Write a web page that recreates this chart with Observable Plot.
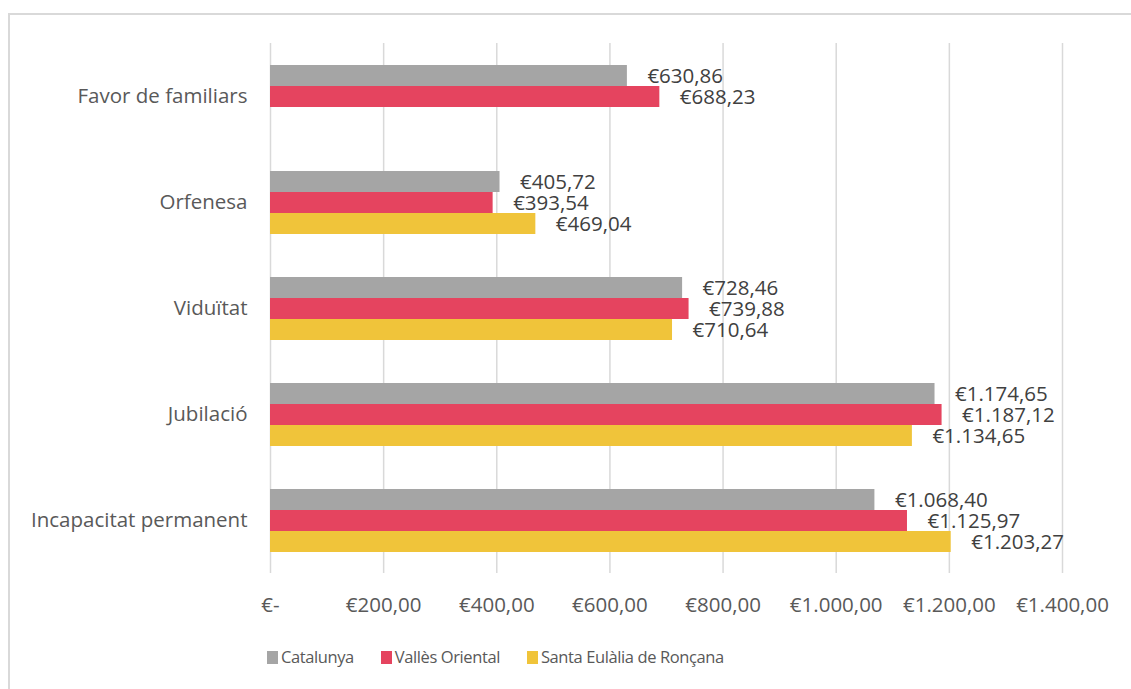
<!DOCTYPE html>
<html>
<head>
<meta charset="utf-8">
<script src="https://cdn.jsdelivr.net/npm/d3@7"></script>
<script src="https://cdn.jsdelivr.net/npm/@observablehq/plot@0.6"></script>
<style>
  html, body { margin: 0; padding: 0; background: #fff; overflow: hidden; }
  #wrap { position: relative; width: 1131px; height: 689px; }
  #frame { position: absolute; left: 8px; top: 13px; width: 1200px; height: 800px;
           border-left: 2px solid #D9D9D9; border-top: 2px solid #D9D9D9; box-sizing: border-box; }
  #chart { position: absolute; left: 0; top: 0; }
  #legend { position: absolute; left: 267px; top: 647px; display: flex; align-items: center;
            font-family: "Open Sans", sans-serif; font-size: 16.5px; letter-spacing: -0.4px; color: #595959; line-height: 20px; }
  .item { display: flex; align-items: center; margin-right: 27px; }
  .sw { width: 11px; height: 13px; margin-right: 3px; }
</style>
</head>
<body>
<div id="wrap">
  <div id="frame"></div>
  <div id="chart"></div>
  <div id="legend"></div>
</div>
<script>
const categories = ["Favor de familiars", "Orfenesa", "Viduïtat", "Jubilació", "Incapacitat permanent"];
const series = ["Catalunya", "Vallès Oriental", "Santa Eulàlia de Ronçana"];
const catalunya = [630.86, 405.72, 728.46, 1174.65, 1068.40];
const vallesOriental = [688.23, 393.54, 739.88, 1187.12, 1125.97];
const santaEulalia = [null, 469.04, 710.64, 1134.65, 1203.27];
const colors = ["#A5A5A5", "#E5445F", "#F0C43A"];
const xTicks = [0, 200, 400, 600, 800, 1000, 1200, 1400];

const seriesValues = [catalunya, vallesOriental, santaEulalia];
const data = [];
categories.forEach((c, i) => {
  series.forEach((s, j) => {
    const v = seriesValues[j][i];
    if (v != null) data.push({category: c, series: s, value: v});
  });
});

const locale = d3.formatLocale({decimal: ",", thousands: ".", grouping: [3], currency: ["€", ""]});
const fmtNum = locale.format("$,.2f");
const fmt = v => v === 0 ? "€-" : fmtNum(v);

const chart = Plot.plot({
  width: 1131,
  height: 620,
  marginLeft: 270,
  marginRight: 69,
  marginTop: 42,
  marginBottom: 47,
  style: {fontFamily: "Open Sans, sans-serif", fontSize: "20.5px", color: "#595959", background: "transparent"},
  facet: {data, y: "category", label: null},
  fy: {domain: categories, padding: 0, tickSize: 0, tickPadding: 23, label: null},
  y: {domain: series, axis: null, paddingInner: 0, paddingOuter: 0.914},
  x: {domain: [0, 1400], ticks: xTicks, tickFormat: fmt, tickSize: 0, tickPadding: 24, label: null, line: false},
  color: {domain: series, range: colors},
  marks: [
    Plot.ruleX(xTicks, {stroke: "#D9D9D9", strokeWidth: 1.5}),
    Plot.barX(data, {x: "value", y: "series", fill: "series"}),
    Plot.text(data, {x: "value", y: "series", text: d => fmt(d.value), textAnchor: "start", dx: 20, fill: "#404040"})
  ]
});
document.getElementById("chart").appendChild(chart);

const legend = document.getElementById("legend");
series.forEach((s, i) => {
  const item = document.createElement("div");
  item.className = "item";
  const sw = document.createElement("div");
  sw.className = "sw";
  sw.style.background = colors[i];
  const label = document.createElement("span");
  label.textContent = s;
  item.appendChild(sw);
  item.appendChild(label);
  legend.appendChild(item);
});
</script>
</body>
</html>
